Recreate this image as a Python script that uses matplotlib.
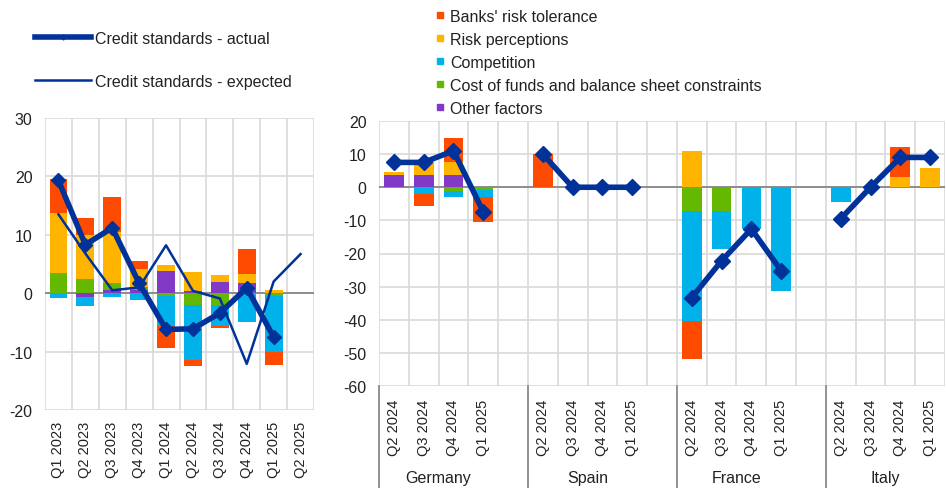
import numpy as np
import matplotlib.pyplot as plt
from matplotlib.lines import Line2D
import matplotlib.transforms as mtransforms

plt.rcParams['font.family'] = ['Liberation Sans', 'DejaVu Sans']
plt.rcParams['axes.unicode_minus'] = False

# ---- data: euro area (left panel) ----
ea_quarters = ["Q1 2023", "Q2 2023", "Q3 2023", "Q4 2023", "Q1 2024",
               "Q2 2024", "Q3 2024", "Q4 2024", "Q1 2025", "Q2 2025"]
ea_risk_tol = [5.9, 2.9, 6.0, 1.3, -3.7, -1.1, -0.2, 4.2, -2.2, 0]
ea_risk_perc = [10.2, 7.4, 8.7, 3.1, 1.1, 3.3, 1.1, 1.5, 0.6, 0]
ea_competition = [-0.9, -1.6, -0.6, -1.1, -5.3, -9.4, -3.7, -4.8, -9.7, 0]
ea_cost_funds = [3.5, 2.5, 1.3, 0.6, -0.4, -2.0, -2.0, -0.2, -0.4, 0]
ea_other = [0, -0.6, 0.5, 0.5, 3.8, 0.4, 2.0, 1.8, 0, 0]
ea_actual = [19.3, 8.3, 11.2, 1.7, -6.2, -6.1, -3.4, 0.9, -7.5, np.nan]
ea_expected = [13.5, 6.8, 0.5, 1.0, 8.2, 0.4, -0.9, -12.1, 2.0, 6.7]

# ---- data: countries (right panel) ----
countries = ["Germany", "Spain", "France", "Italy"]
cty_quarters = ["Q2 2024", "Q3 2024", "Q4 2024", "Q1 2025"]
# one row per country, columns = cty_quarters
cty_risk_tol = [[0, -3.7, 7.2, -7.4], [10.0, 0, 0, 0],
                [-11.2, 0, 0, 0], [0, 0, 9.1, 0]]
cty_risk_perc = [[1.1, 4.0, 4.0, 0], [0, 0, 0, 0],
                 [11.0, 0, 0, 0], [0, 0, 3.1, 5.9]]
cty_competition = [[0, -1.9, -2.0, -2.1], [0, 0, 0, 0],
                   [-33.2, -11.2, -12.7, -31.3], [-4.4, 0, 0, 0]]
cty_cost_funds = [[0, 0, -1.0, -0.9], [0, 0, 0, 0],
                  [-7.3, -7.3, 0, 0], [0, 0, 0, 0]]
cty_other = [[3.6, 3.6, 3.6, 0], [0, 0, 0, 0],
             [0, 0, 0, 0], [0, 0, 0, 0]]
cty_actual = [[7.5, 7.5, 11.0, -7.4], [10.0, 0, 0, 0],
              [-33.3, -22.2, -12.6, -25.2], [-9.5, 0, 9.0, 9.0]]

factor_names = ["Banks' risk tolerance", "Risk perceptions", "Competition",
                "Cost of funds and balance sheet constraints", "Other factors"]
factor_colors = ["#FF4B00", "#FFB400", "#00B1EA", "#65B800", "#8139C6"]
line_color = "#003299"
grid_color = "#D9D9D9"


def stacked(ax, x, series, colors, width=0.66):
    # excel style: positives and negatives stacked separately
    pos = np.zeros(len(x))
    neg = np.zeros(len(x))
    for vals, col in zip(series, colors):
        vals = np.asarray(vals, dtype=float)
        base = np.where(vals >= 0, pos, neg)
        ax.bar(x, vals, width=width, bottom=base, color=col, zorder=2)
        pos = pos + np.where(vals > 0, vals, 0)
        neg = neg + np.where(vals < 0, vals, 0)


def with_gaps(rows):
    # countries separated by an empty slot
    out = []
    for i, r in enumerate(rows):
        out += list(r)
        if i < len(rows) - 1:
            out.append(np.nan)
    return np.array(out, dtype=float)


W, H = 946, 489
fig = plt.figure(figsize=(W / 100, H / 100), dpi=100)

# stack order from zero outwards: other, cost of funds, competition, perceptions, tolerance
stack_order = [4, 3, 2, 1, 0]

# ---------------- left panel ----------------
ax1 = fig.add_axes([45 / W, 1 - 411 / H, 269 / W, 292 / H])
x1 = np.arange(len(ea_quarters))
ea_series = [ea_risk_tol, ea_risk_perc, ea_competition, ea_cost_funds, ea_other]
stacked(ax1, x1, [ea_series[i] for i in stack_order],
        [factor_colors[i] for i in stack_order])
ax1.plot(x1, ea_expected, color=line_color, lw=1.8, zorder=3)
ax1.plot(x1, ea_actual, color=line_color, lw=4, marker='D', markersize=7, zorder=4)
ax1.axhline(0, color='#808080', lw=1.2, zorder=1.5)
ax1.set_xlim(-0.5, len(ea_quarters) - 0.5)
ax1.set_ylim(-20, 30)
ax1.set_yticks(np.arange(-20, 31, 10))
ax1.set_xticks(x1)
ax1.set_xticklabels(ea_quarters, rotation=90, fontsize=10.5)
ax1.set_xticks(np.arange(-0.5, len(ea_quarters), 1), minor=True)

# ---------------- right panel ----------------
ax2 = fig.add_axes([379 / W, 1 - 387 / H, 566 / W, 265 / H])
n_slots = len(countries) * len(cty_quarters) + len(countries) - 1
x2 = np.arange(n_slots)
cty_series = [cty_risk_tol, cty_risk_perc, cty_competition, cty_cost_funds, cty_other]
cty_series = [np.nan_to_num(with_gaps(s)) for s in cty_series]
stacked(ax2, x2, [cty_series[i] for i in stack_order],
        [factor_colors[i] for i in stack_order])
ax2.plot(x2, with_gaps(cty_actual), color=line_color, lw=4, marker='D',
         markersize=8, zorder=4)
ax2.axhline(0, color='#808080', lw=1.2, zorder=1.5)
ax2.set_xlim(-0.5, n_slots - 0.5)
ax2.set_ylim(-60, 20)
ax2.set_yticks(np.arange(-60, 21, 10))
slots = with_gaps([[0] * len(cty_quarters)] * len(countries))
tick_pos = [i for i in x2 if not np.isnan(slots[i])]
ax2.set_xticks(tick_pos)
ax2.set_xticklabels(cty_quarters * len(countries), rotation=90, fontsize=10.5)
ax2.set_xticks(np.arange(-0.5, n_slots, 1), minor=True)

# country separators and names below the axis
trans = mtransforms.blended_transform_factory(ax2.transData, ax2.transAxes)
group = len(cty_quarters) + 1
for k, name in enumerate(countries):
    left = -0.5 + k * group
    ax2.plot([left, left], [0, -0.39], transform=trans, color='#808080',
             lw=1.2, clip_on=False)
    ax2.text(left + len(cty_quarters) / 2, -0.347, name, transform=trans,
             ha='center', va='center', fontsize=11.5, color='#222222')

for ax, pad in ((ax1, 8), (ax2, 9)):
    for s in ax.spines.values():
        s.set_visible(False)
    ax.grid(which='minor', axis='x', color=grid_color, lw=1.2, zorder=0)
    ax.grid(which='major', axis='y', color=grid_color, lw=1.2, zorder=0)
    ax.set_axisbelow(True)
    ax.tick_params(which='both', length=0)
    ax.tick_params(axis='y', labelsize=11.5, pad=9, labelcolor='#222222')
    ax.tick_params(axis='x', pad=pad, labelcolor='#222222')

# ---------------- legends ----------------
line_handles = [
    Line2D([], [], color=line_color, lw=4, marker='D', markersize=2.5),
    Line2D([], [], color=line_color, lw=1.8),
]
fig.legend(line_handles, ["Credit standards - actual", "Credit standards - expected"],
           loc='upper left', bbox_to_anchor=(35 / W, 1 - 32 / H), frameon=False,
           fontsize=11.5, handlelength=3.5, handletextpad=0.25, labelspacing=1.75,
           borderpad=0, borderaxespad=0, labelcolor='#222222')

sq_handles = [Line2D([], [], marker='s', linestyle='none', markersize=5,
                     color=c) for c in factor_colors]
fig.legend(sq_handles, factor_names, loc='upper left',
           bbox_to_anchor=(435 / W, 1 - 10 / H), frameon=False, fontsize=11.5,
           handlelength=0.6, handletextpad=0.35, labelspacing=0.5,
           borderpad=0, borderaxespad=0, labelcolor='#222222')

fig.savefig("out.png", dpi=100)
